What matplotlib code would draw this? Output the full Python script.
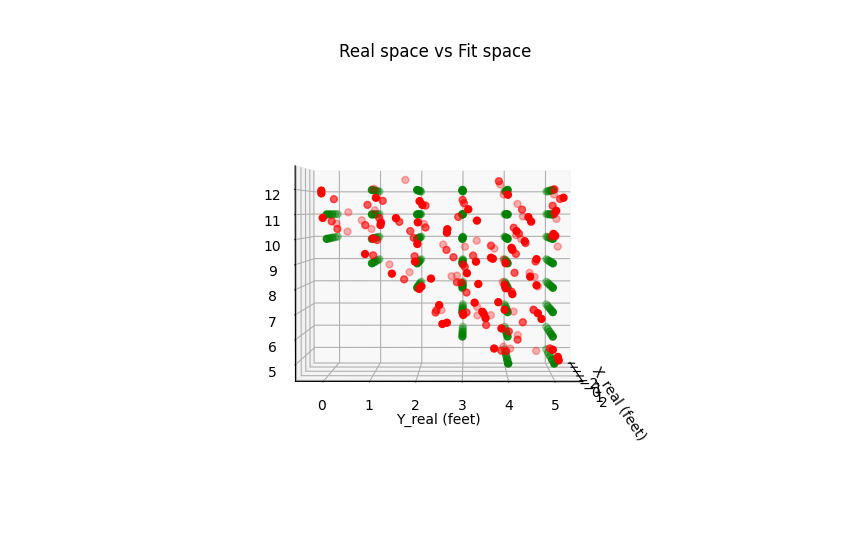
import matplotlib
matplotlib.use("Agg")
import matplotlib.pyplot as plt

# Real positions: grid of measured points
green_x = [-1.7, -0.95, -0.2, 0.55, 1.3]
green_x_low = [-1.7, -0.8, 0.1, 1.0, 1.9]
green_rows = {
    0: [11, 10],
    1: [12, 11, 10, 9],
    2: [12, 11, 10, 9, 8],
    3: [12, 11, 10, 9, 8, 7, 6],
    4: [12, 11, 10, 9, 8, 7, 6, 5],
    5: [12, 11, 10, 9, 8, 7, 6, 5],
}

# Fitted positions, grouped by approximate depth
near_y = [-0.10,-0.10,1.10,-0.07,1.21,1.20,1.54,2.02,2.01,2.06,2.12,1.03,0.86,1.45,2.31,1.96,2.10,2.05,2.67,2.66,
          3.13,3.32,3.30,3.10,3.35,4.00,5.22,5.06,4.45,4.51,4.19,4.37,5.00,5.04,4.08,4.10,3.63,3.67,3.95,4.63,
          4.49,3.93,3.95,4.63,4.10,3.27,3.44,3.47,3.51,3.02,3.01,3.79,3.93,4.66,4.74,3.86,3.70,5.10,5.12,4.99,
          2.49,2.56,2.66]
near_z = [11.97,11.86,11.68,10.86,10.67,10.57,10.85,10.68,9.80,11.54,11.39,10.02,9.39,8.59,8.39,9.08,8.07,7.97,10.40,10.26,
          11.21,10.75,9.08,8.61,8.17,11.80,11.68,11.15,10.89,10.71,10.32,9.91,10.21,10.13,9.64,9.56,9.24,9.20,9.02,9.18,
          8.47,8.13,8.00,8.12,7.76,7.41,7.04,6.96,6.78,6.91,6.96,7.43,7.12,6.98,6.75,6.36,5.54,5.20,5.06,5.49,
          7.31,6.54,6.59]
mid_y = [0.05,1.17,0.82,0.00,0.13,0.77,1.09,1.55,1.80,2.15,1.88,2.15,1.04,0.95,1.66,1.90,2.63,2.79,3.00,3.03,
         2.90,3.24,3.01,3.05,2.87,2.97,3.09,3.83,5.10,5.23,5.06,5.10,4.36,4.17,4.29,4.44,5.04,3.65,4.22,4.67,
         4.19,4.12,3.09,4.63,4.38,3.54,4.06,4.26,3.89,4.00,5.00,2.40,2.38]
mid_z = [11.64,11.57,11.40,10.70,10.38,10.54,10.84,10.68,10.29,10.44,10.00,11.37,9.91,9.26,8.24,9.22,9.49,9.18,11.61,11.47,
         10.89,9.25,8.87,8.77,8.12,8.10,7.68,12.40,12.06,11.65,11.36,11.02,11.20,10.43,10.18,9.78,10.06,9.67,9.32,9.00,
         8.52,7.72,6.83,6.94,6.42,6.30,6.03,5.68,5.21,5.19,5.31,6.93,6.83]
far_y = [0.88,0.90,1.63,0.27,-0.01,0.25,0.59,0.82,2.07,2.53,3.33,3.05,1.25,1.73,2.73,2.86,3.89,3.97,5.17,5.23,
         4.30,4.43,4.27,4.39,5.26,3.75,3.97,4.59,4.71,3.95,4.79,3.34,3.67,3.35,4.21,4.68,4.31,3.97,4.13,4.75,2.49]
far_z = [12.12,11.17,12.51,11.08,10.58,10.23,10.73,10.35,10.57,9.66,9.83,9.56,8.78,8.44,8.26,8.29,12.31,11.87,11.87,10.79,
         11.45,10.90,10.07,9.91,9.57,9.48,9.00,8.41,8.23,8.00,7.81,6.91,6.54,6.53,6.70,6.79,5.66,5.15,5.06,4.96,6.76]
near_x, mid_x, far_x = 1.5, 0.0, -1.5

title = "Real space vs Fit space"
xlabel = "X_real (feet)"
ylabel = "Y_real (feet)"

gx, gy, gz = [], [], []
for yv, zs in green_rows.items():
    for zv in zs:
        for xv in (green_x_low if zv == 5 else green_x):
            gx.append(xv); gy.append(yv); gz.append(zv)

rx = [near_x]*len(near_y) + [mid_x]*len(mid_y) + [far_x]*len(far_y)
ry = near_y + mid_y + far_y
rz = near_z + mid_z + far_z

fig = plt.figure(figsize=(8.49, 5.46), dpi=100)
ax = fig.add_subplot(111, projection="3d", computed_zorder=False)
ax.scatter(gx, gy, gz, c="green", s=25)
ax.scatter(rx, ry, rz, c="red", s=25)
ax.set_xlim(-2.2, 2.2)
ax.set_ylim(-0.6, 5.6)
ax.set_zlim(4.33, 12.94)
ax.set_xticks([-2, -1, 0, 1, 2])
ax.set_yticks([0, 1, 2, 3, 4, 5])
ax.set_zticks([5, 6, 7, 8, 9, 10, 11, 12])
ax.set_title(title)
ax.set_xlabel(xlabel)
ax.set_ylabel(ylabel)
ax.view_init(elev=1.5, azim=0.7)
fig.savefig("out.png", dpi=100)
